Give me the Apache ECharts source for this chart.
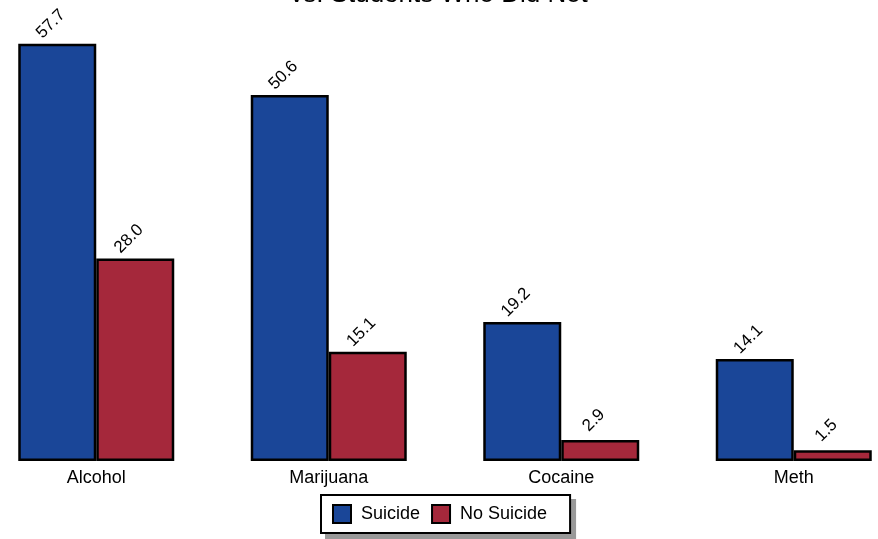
<!DOCTYPE html>
<html>
<head>
<meta charset="utf-8">
<script src="https://cdn.jsdelivr.net/npm/echarts@6/dist/echarts.min.js"></script>
<style>
	html, body { margin: 0; padding: 0; background: #fff; }
	#chart { width: 878px; height: 539px; }
</style>
</head>
<body>
<div id="chart"></div>
<script>
	// data
	const categories = ['Alcohol', 'Marijuana', 'Cocaine', 'Meth']
	const suicide = [57.7, 50.6, 19.2, 14.1]
	const noSuicide = [28.0, 15.1, 2.9, 1.5]
	const titleText = 'vs. Students Who Did Not'

	const font = 'Liberation Sans, Arial, sans-serif'
	const chart = echarts.init(document.getElementById('chart'))

	const valueLabel = {
		show: true,
		position: 'top',
		distance: 26,
		rotate: 45,
		align: 'center',
		verticalAlign: 'middle',
		offset: [-9, 0],
		color: '#000',
		fontSize: 17,
		fontFamily: font,
		formatter: p => p.value.toFixed(1)
	}

	// common legend layout, the second copy only serves as the drop shadow
	const legendBase = {
		data: ['Suicide', 'No Suicide'],
		itemWidth: 18,
		itemHeight: 18,
		itemGap: 11,
		padding: [9, 23, 9, 11],
		icon: 'rect',
		textStyle: { fontSize: 18, color: '#000', fontFamily: font, padding: [0, 0, 0, 5] }
	}

	const option = {
		animation: false,
		backgroundColor: '#fff',
		title: {
			text: titleText,
			left: 'center',
			top: -23,
			textStyle: { fontSize: 26, fontWeight: 'normal', color: '#000', fontFamily: font }
		},
		legend: [{
			...legendBase,
			left: 321,
			bottom: 6,
			z: 10,
			backgroundColor: '#fff',
			borderColor: '#000',
			borderWidth: 2
		}, {
			...legendBase,
			left: 326,
			bottom: 1,
			z: 5,
			selectedMode: false,
			backgroundColor: '#999',
			borderColor: '#999',
			borderWidth: 2,
			itemStyle: { opacity: 0 },
			textStyle: { ...legendBase.textStyle, color: 'rgba(0,0,0,0)' }
		}],
		grid: { left: -20, right: -32, top: 27, bottom: 78, outerBoundsMode: 'none', containLabel: false },
		xAxis: {
			type: 'category',
			data: categories,
			axisLine: { show: false },
			axisTick: { show: false },
			axisLabel: { fontSize: 18, color: '#000', fontFamily: font, margin: 8 }
		},
		yAxis: {
			type: 'value',
			min: 0,
			max: 60,
			show: false,
			splitLine: { show: false }
		},
		series: [{
			name: 'Suicide',
			type: 'bar',
			barWidth: 78,
			barGap: 0,
			data: suicide,
			itemStyle: { color: '#1a4698', borderColor: '#000', borderWidth: 2.5 },
			label: valueLabel
		}, {
			name: 'No Suicide',
			type: 'bar',
			barWidth: 78,
			barGap: 0,
			data: noSuicide,
			itemStyle: { color: '#a5283b', borderColor: '#000', borderWidth: 2.5 },
			label: valueLabel
		}]
	}
	chart.setOption(option)
</script>
</body>
</html>
